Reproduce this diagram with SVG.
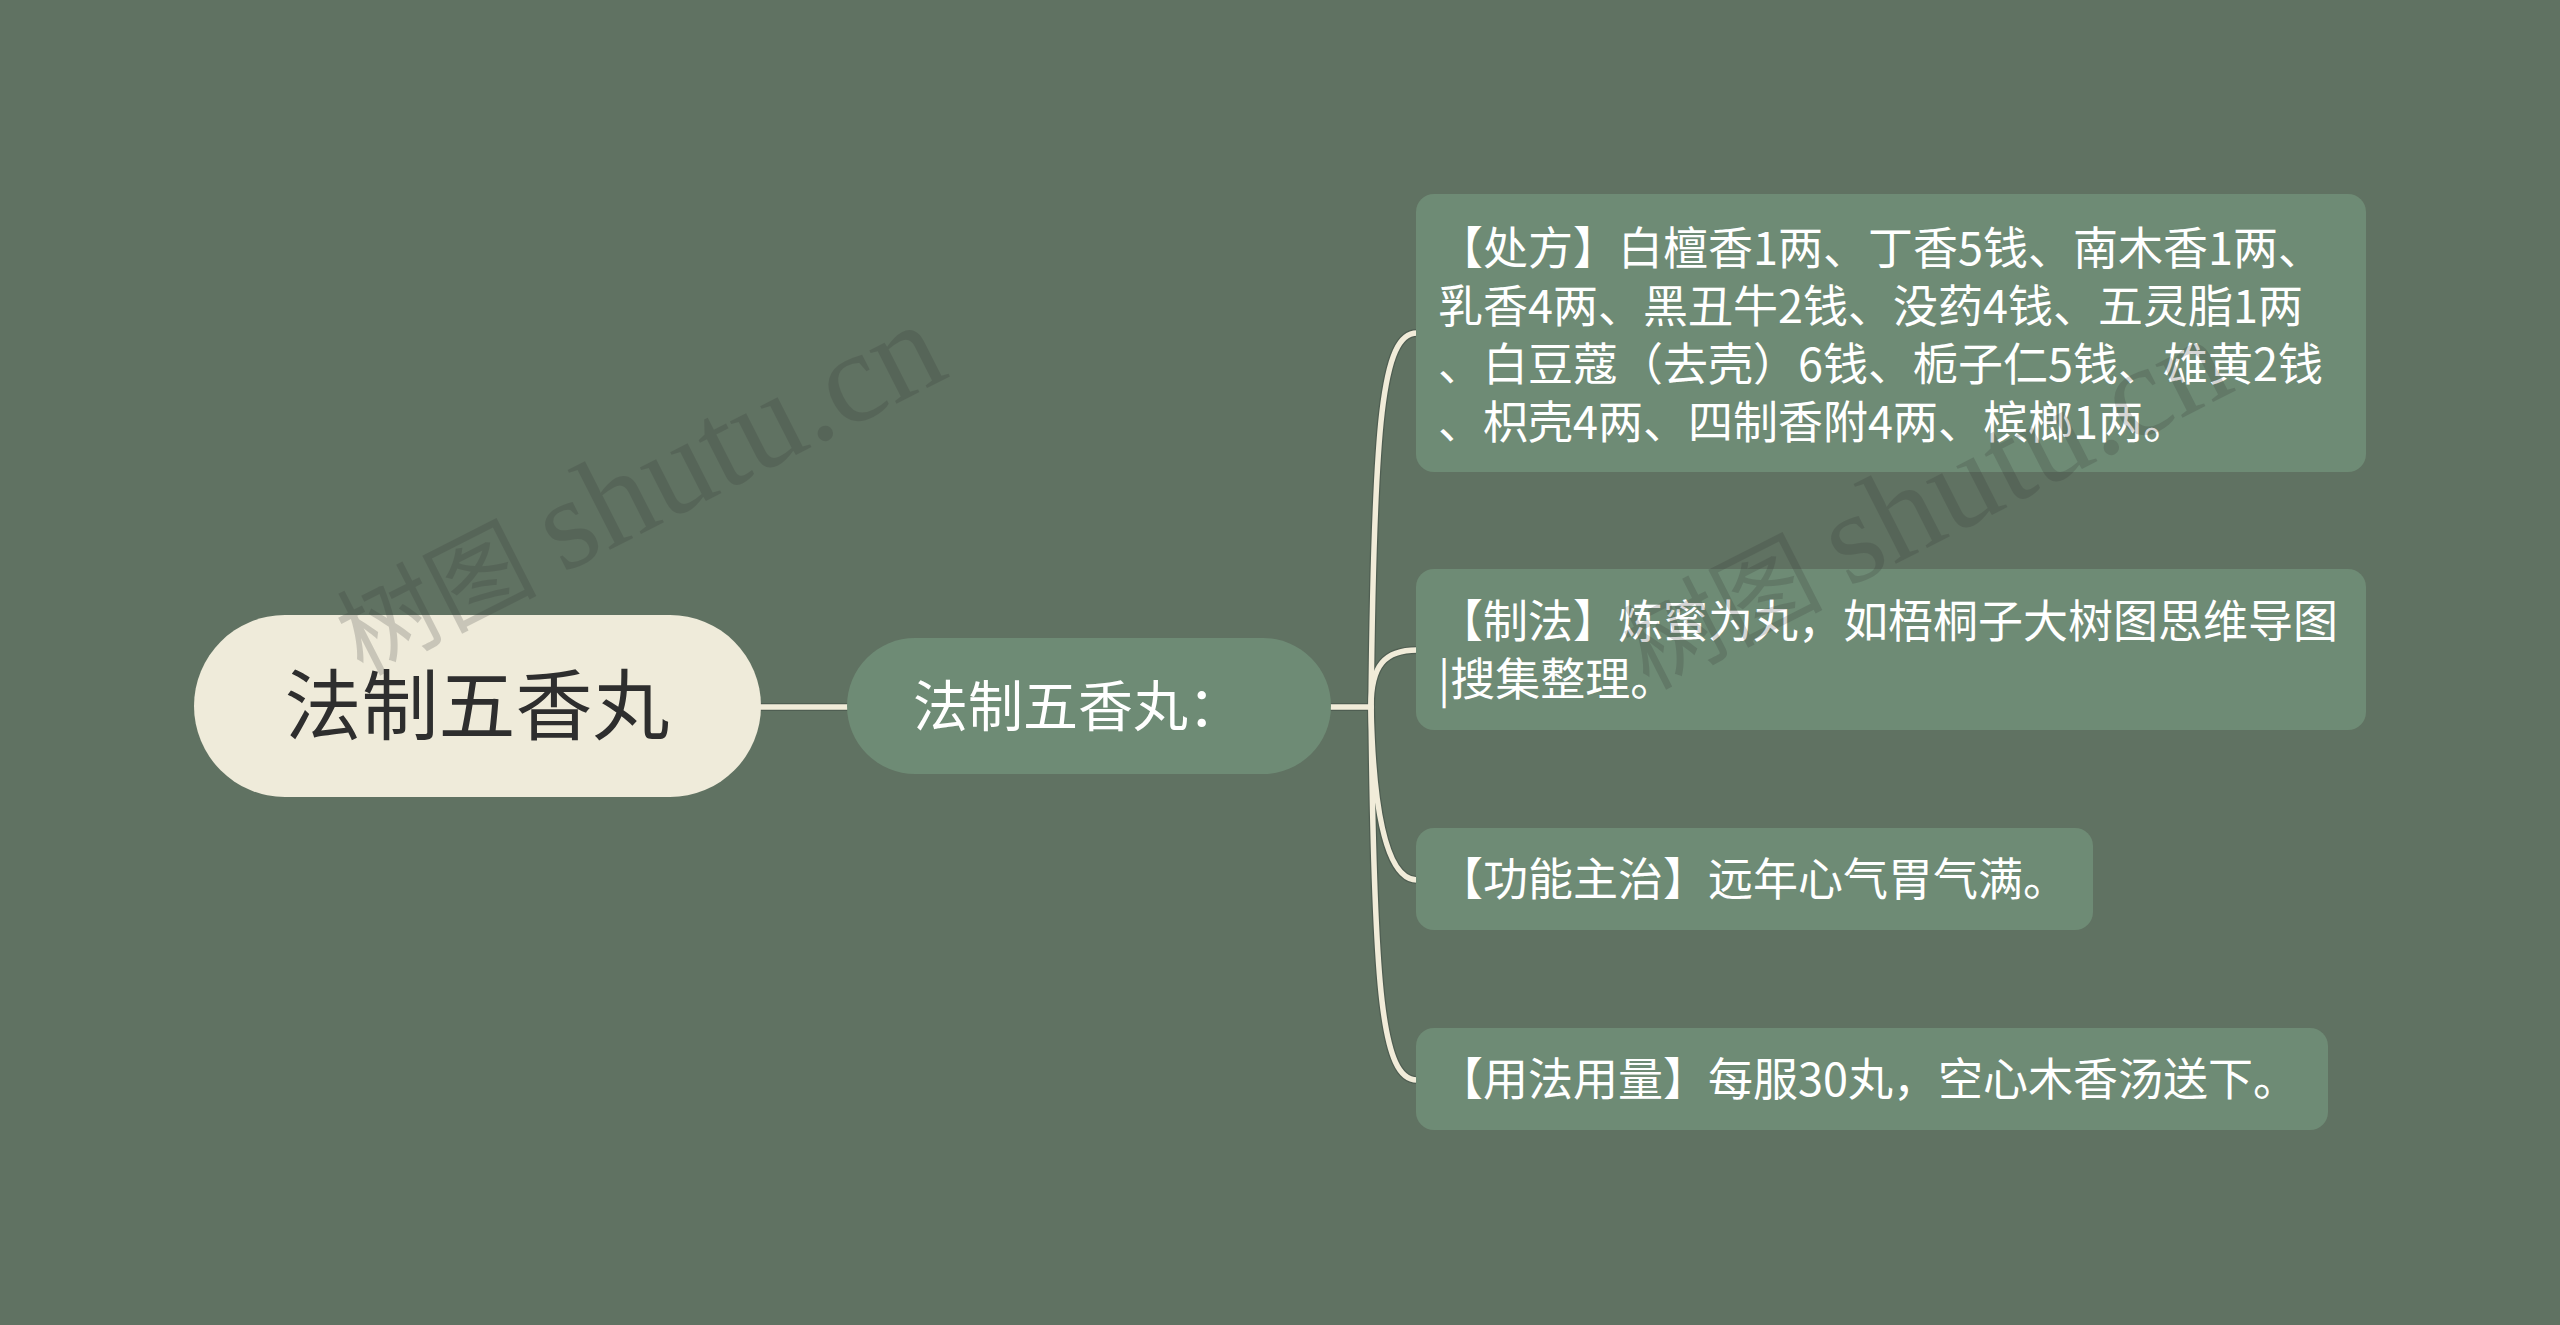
<svg xmlns="http://www.w3.org/2000/svg" width="2560" height="1325" viewBox="0 0 2560 1325">
<style>
.leaf{fill:#6e8b75}
.lt{font-family:"Noto Sans CJK SC","Noto Sans",sans-serif;font-size:45px;fill:#ffffff}
.edge-u{fill:none;stroke:#4f5e52;stroke-width:8;stroke-linecap:round}
.edge{fill:none;stroke:#f1ecd9;stroke-width:5.5;stroke-linecap:round}
.wm{font-family:"Liberation Serif","Noto Sans CJK SC",serif;fill:#333333;opacity:0.2}
</style>
<rect x="0" y="0" width="2560" height="1325" fill="#607262"/>
<g id="connectors">
<g class="edge-u">
<path d="M761 707 L847 707"/>
<path d="M1331 707 L1371 707"/>
<path d="M1371 707 C1374 420 1382 333 1417 333"/>
<path d="M1371 707 C1371 665 1385 650 1417 650"/>
<path d="M1371 707 C1373 800 1384 880 1417 880"/>
<path d="M1371 707 C1374 994 1382 1080 1417 1080"/>
</g>
<g class="edge">
<path d="M761 707 L847 707"/>
<path d="M1331 707 L1371 707"/>
<path d="M1371 707 C1374 420 1382 333 1417 333"/>
<path d="M1371 707 C1371 665 1385 650 1417 650"/>
<path d="M1371 707 C1373 800 1384 880 1417 880"/>
<path d="M1371 707 C1374 994 1382 1080 1417 1080"/>
</g>
</g>
<g id="root">
<rect x="194" y="615" width="567" height="182" rx="91" fill="#efebda"/>
<text x="477" y="734" text-anchor="middle" font-family="Noto Sans CJK SC, sans-serif" font-size="77" fill="#2e2e2e">法制五香丸</text>
</g>
<g id="main">
<rect x="847" y="638" width="484" height="136" rx="68" fill="#6e8b75"/>
<text x="913" y="726" font-family="Noto Sans CJK SC, sans-serif" font-size="55" fill="#ffffff">法制五香丸：</text>
</g>
<g id="leaf1">
<rect class="leaf" x="1416" y="194" width="950" height="278" rx="18"/>
<text class="lt" x="1438" y="265">【处方】白檀香1两、丁香5钱、南木香1两、<tspan x="1438" y="323">乳香4两、黑丑牛2钱、没药4钱、五灵脂1两</tspan><tspan x="1438" y="381">、白豆蔻（去壳）6钱、栀子仁5钱、雄黄2钱</tspan><tspan x="1438" y="439">、枳壳4两、四制香附4两、槟榔1两。</tspan></text>
</g>
<g id="leaf2">
<rect class="leaf" x="1416" y="569" width="950" height="161" rx="18"/>
<text class="lt" x="1438" y="638">【制法】炼蜜为丸，如梧桐子大树图思维导图<tspan x="1438" y="696">|搜集整理。</tspan></text>
</g>
<g id="leaf3">
<rect class="leaf" x="1416" y="828" width="677" height="102" rx="18"/>
<text class="lt" x="1438" y="896">【功能主治】远年心气胃气满。</text>
</g>
<g id="leaf4">
<rect class="leaf" x="1416" y="1028" width="912" height="102" rx="18"/>
<text class="lt" x="1438" y="1096">【用法用量】每服30丸，空心木香汤送下。</text>
</g>
<g id="watermarks">
<text class="wm" transform="translate(362 676) rotate(-27)" font-size="100">树图 <tspan font-size="130">shutu.cn</tspan></text>
<text class="wm" transform="translate(1648 690) rotate(-27)" font-size="100">树图 <tspan font-size="130">shutu.cn</tspan></text>
</g>
</svg>
